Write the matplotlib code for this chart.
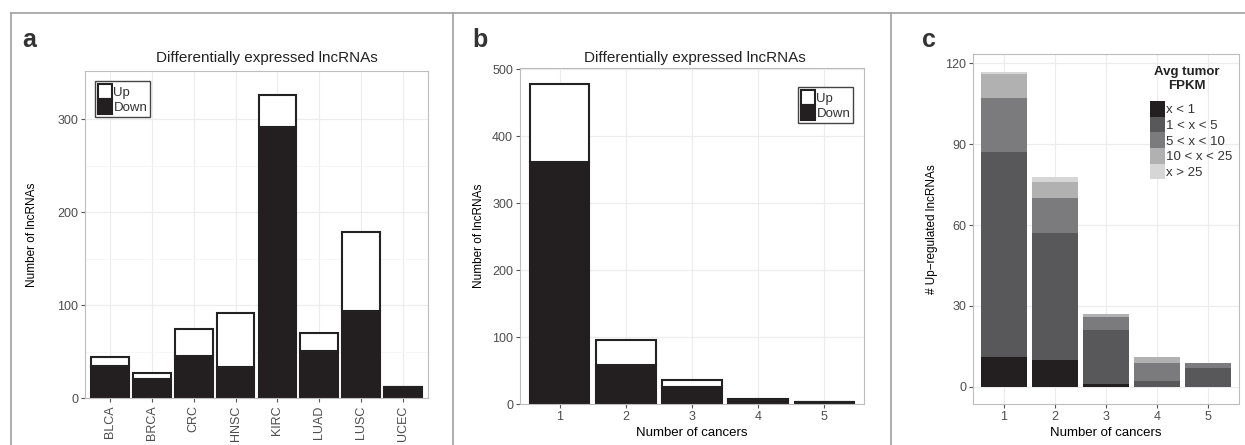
"""Differentially expressed lncRNA counts, three-panel bar figure."""
import matplotlib
matplotlib.use("Agg")
import matplotlib.pyplot as plt
from matplotlib.lines import Line2D
from matplotlib.patches import Patch

plt.rcParams["font.family"] = ["Liberation Sans", "DejaVu Sans"]

# panel a: per cancer type
cancer_types = ["BLCA", "BRCA", "CRC", "HNSC", "KIRC", "LUAD", "LUSC", "UCEC"]
a_down = [35, 21, 45, 34, 292, 51, 94, 12]
a_up = [9, 6, 30, 58, 34, 19, 85, 0]

# panel b: by number of cancers
n_cancers = [1, 2, 3, 4, 5]
b_down = [361, 58, 26, 7, 3]
b_up = [117, 38, 10, 1, 0]

# panel c: up-regulated lncRNAs split by average tumor FPKM
fpkm_bins = ["x < 1", "1 < x < 5", "5 < x < 10", "10 < x < 25", "x > 25"]
c_lt1 = [11, 10, 1, 0, 0]
c_1_5 = [76, 47, 20, 2, 7]
c_5_10 = [20, 13, 5, 7, 2]
c_10_25 = [9, 6, 1, 2, 0]
c_gt25 = [1, 2, 0, 0, 0]
c_series = [c_lt1, c_1_5, c_5_10, c_10_25, c_gt25]
c_colors = ["#231f20", "#58585a", "#7b7b7d", "#b1b1b1", "#d6d6d6"]

W, H = 1245, 445
fig = plt.figure(figsize=(W / 100, H / 100), dpi=100)
TICK = "#4d4d4d"


def px_axes(l, t, r, b):
    return fig.add_axes([l / W, 1 - b / H, (r - l) / W, (b - t) / H])


def style(ax):
    for s in ax.spines.values():
        s.set_color("#bdbdbd"); s.set_linewidth(0.8)
    ax.set_axisbelow(True)
    ax.grid(True, color="#ececec", linewidth=0.8)
    ax.tick_params(length=3, width=0.8, color="#555555", labelcolor=TICK, labelsize=9, pad=2)


def updown_legend(ax, anchor):
    h = [Patch(facecolor="white", edgecolor="#222222", linewidth=1.5, label="Up"),
         Patch(facecolor="#231f20", edgecolor="#231f20", linewidth=1.5, label="Down")]
    lg = ax.legend(handles=h, loc="upper left", bbox_to_anchor=anchor, bbox_transform=fig.transFigure,
                   fontsize=9.5, handlelength=1.1, handleheight=1.4, handletextpad=0.1, labelspacing=0.0,
                   borderpad=0.2, borderaxespad=0, fancybox=False, framealpha=1, edgecolor="#444444")
    lg.get_frame().set_linewidth(1.0)
    for t in lg.get_texts():
        t.set_color("#333333")


# frame lines around the panels
for xs, ys in [([11, W], [13, 13]), ([11, 11], [13, H]), ([453, 453], [13, H]), ([891, 891], [13, H])]:
    fig.add_artist(Line2D([x / W for x in xs], [1 - y / H for y in ys], color="#a0a0a0", linewidth=1.2))

# panel a
ax = px_axes(85, 71, 428, 398.3)
style(ax)
xa = range(1, len(cancer_types) + 1)
ax.bar(xa, a_down, width=0.9, color="#231f20", edgecolor="#231f20", linewidth=1.5)
ax.bar(xa, a_up, bottom=a_down, width=0.9, color="white", edgecolor="#222222", linewidth=1.5)
ax.set_xlim(0.4, len(cancer_types) + 0.6); ax.set_ylim(0, 352)
ax.set_xticks(list(xa)); ax.set_xticklabels(cancer_types, rotation=90)
ax.set_yticks([0, 100, 200, 300]); ax.set_yticks([50, 150, 250], minor=True)
ax.grid(True, which="minor", axis="y", color="#f5f5f5", linewidth=0.6)
ax.tick_params(which="minor", length=0)
ax.set_ylabel("Number of lncRNAs", fontsize=8.5, labelpad=14)
updown_legend(ax, (95 / W, 1 - 81 / H))
fig.text(267 / W, 1 - 58 / H, "Differentially expressed lncRNAs", ha="center", va="center", fontsize=11, color="#222222")
fig.text(22 / W, 1 - 47 / H, "a", fontsize=18, fontweight="bold", color="#333333", va="baseline")

# panel b
ax = px_axes(520, 68, 864, 404.3)
style(ax)
ax.bar(n_cancers, b_down, width=0.9, color="#231f20", edgecolor="#231f20", linewidth=1.5)
ax.bar(n_cancers, b_up, bottom=b_down, width=0.9, color="white", edgecolor="#222222", linewidth=1.5)
ax.set_xlim(0.4, 5.6); ax.set_ylim(0, 502)
ax.set_xticks(n_cancers); ax.set_yticks(range(0, 501, 100))
ax.set_ylabel("Number of lncRNAs", fontsize=8.5, labelpad=5)
ax.set_xlabel("Number of cancers", fontsize=9.5, labelpad=3)
updown_legend(ax, (798 / W, 1 - 87 / H))
fig.text(695 / W, 1 - 58 / H, "Differentially expressed lncRNAs", ha="center", va="center", fontsize=11, color="#222222")
fig.text(472 / W, 1 - 47 / H, "b", fontsize=18, fontweight="bold", color="#333333", va="baseline")

# panel c
ax = px_axes(973.3, 54.3, 1239, 404.3)
style(ax)
bottom = [0] * len(n_cancers)
for vals, col, lab in zip(c_series, c_colors, fpkm_bins):
    ax.bar(n_cancers, vals, bottom=bottom, width=0.9, color=col, linewidth=0, label=lab)
    bottom = [b + v for b, v in zip(bottom, vals)]
ax.set_xlim(0.4, 5.6); ax.set_ylim(-6.5, 123.4)
ax.set_xticks(n_cancers); ax.set_yticks([0, 30, 60, 90, 120])
ax.set_ylabel("# Up\u2212regulated lncRNAs", fontsize=8.5, labelpad=5)
ax.set_xlabel("Number of cancers", fontsize=9.5, labelpad=3)
lg = ax.legend(loc="upper left", bbox_to_anchor=(1150 / W, 1 - 101 / H), bbox_transform=fig.transFigure,
               fontsize=9.5, frameon=False, handlelength=1.15, handleheight=1.45, handletextpad=0.1,
               labelspacing=0, borderpad=0, borderaxespad=0)
for t in lg.get_texts():
    t.set_color("#333333")
fig.text(1187 / W, 1 - 79 / H, "Avg tumor\nFPKM", ha="center", va="center", multialignment="center",
         fontsize=9.5, fontweight="bold", color="#222222", linespacing=1.15)
fig.text(922 / W, 1 - 47 / H, "c", fontsize=18, fontweight="bold", color="#333333", va="baseline")

fig.savefig("out.png", dpi=100, facecolor="white")
